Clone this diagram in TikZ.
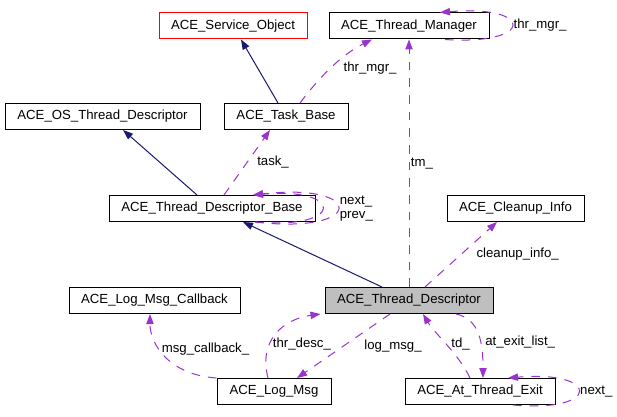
\documentclass[tikz,border=0pt]{standalone}
\usepackage{fontspec}
\setsansfont{Liberation Sans}
\usetikzlibrary{arrows.meta,shapes}

\definecolor{inheritblue}{HTML}{191970}
\definecolor{usepurple}{HTML}{9A32CD}
\definecolor{descgray}{HTML}{BFBFBF}

\begin{document}
\begin{tikzpicture}[
  x=0.75pt, y=-0.75pt,
  font=\sffamily\fontsize{9.9}{11.5}\selectfont,
  >={Triangle[length=7.5pt, width=5.5pt]},
  entity/.style={draw, rectangle, fill=white, line width=0.75pt, minimum height=19.5pt, inner xsep=2pt},
  main-entity/.style={entity, fill=descgray},
  other-entity/.style={entity, draw=red},
  inherit/.style={->, draw=inheritblue, line width=0.75pt},
  arrow/.style={->, draw=usepurple, line width=0.75pt, dash pattern=on 6.5pt off 6pt},
  every node/.style={align=left}]

  \useasboundingbox[fill=white] (0,0) rectangle (617,417);

  % Place the classes at the spots of the layout
  \node[other-entity, minimum width=111pt] (service-object) at (233,26) {ACE\_Service\_Object};
  \node[entity, minimum width=120pt] (thread-manager) at (409,26) {ACE\_Thread\_Manager};
  \node[entity, minimum width=146.25pt] (os-thread-descriptor) at (102.5,116.5) {ACE\_OS\_Thread\_Descriptor};
  \node[entity, minimum width=93pt] (task-base) at (286,116.5) {ACE\_Task\_Base};
  \node[entity, minimum width=154.5pt] (descriptor-base) at (212,208.5) {ACE\_Thread\_Descriptor\_Base};
  \node[entity, minimum width=102.75pt] (cleanup-info) at (515.5,208.5) {ACE\_Cleanup\_Info};
  \node[entity, minimum width=128.25pt] (log-msg-callback) at (154.5,300.5) {ACE\_Log\_Msg\_Callback};
  \node[main-entity, minimum width=126pt] (thread-descriptor) at (409,300.5) {ACE\_Thread\_Descriptor};
  \node[entity, minimum width=85.5pt] (log-msg) at (274,391.5) {ACE\_Log\_Msg};
  \node[entity, minimum width=112.5pt] (at-thread-exit) at (480,391.5) {ACE\_At\_Thread\_Exit};

  % Inheritance edges
  \draw[inherit] ([xshift=-6pt]task-base.north) -- ([xshift=6pt]service-object.south);
  \draw[inherit] ([xshift=-11.25pt]descriptor-base.north) -- ([xshift=15.4pt]os-thread-descriptor.south);
  \draw[inherit] ([xshift=-20.25pt]thread-descriptor.north) -- ([xshift=23.25pt]descriptor-base.south);

  % Usage edges, each with the member name
  \draw[arrow] ([xshift=9pt]descriptor-base.north) --
    node[midway, right=4pt] {task\_}
    ([xshift=-12pt]task-base.south);
  \draw[arrow] ([xshift=10.5pt]task-base.north) .. controls +(18,-24) and +(-32,16) ..
    ([xshift=-27.75pt]thread-manager.south)
    node[midway, right=6pt] {thr\_mgr\_};
  \draw[arrow] ([xshift=27pt]thread-manager.south) .. controls +(90,6) and +(95,-8) ..
    ([xshift=23.25pt]thread-manager.north)
    node[midway, right, inner sep=1pt] {thr\_mgr\_};
  \draw[arrow] (thread-descriptor.north) --
    node[midway, right, inner sep=1pt] {tm\_}
    (thread-manager.south);
  \draw[arrow] ([xshift=32.25pt]descriptor-base.south) .. controls +(90,8) and +(92,-8) ..
    ([xshift=30.75pt]descriptor-base.north);
  \draw[arrow] ([xshift=32.25pt]descriptor-base.south) .. controls +(111,13) and +(113,-13) ..
    ([xshift=30.75pt]descriptor-base.north)
    node[midway, right, inner sep=1pt, font=\sffamily\fontsize{9.9}{11}\selectfont] {next\_\\prev\_};
  \draw[arrow] ([xshift=12pt]thread-descriptor.north) --
    node[midway, right=8pt] {cleanup\_info\_}
    ([xshift=-13.9pt]cleanup-info.south);
  \draw[arrow] (log-msg.north west) .. controls (170,375) and (150,345) ..
    ([xshift=-3.4pt]log-msg-callback.south)
    node[pos=0.6, right, inner sep=1pt] {msg\_callback\_};
  \draw[arrow] ([xshift=-4.5pt]log-msg.north) .. controls +(-10,-39) and +(-36,5) ..
    ([xshift=-3pt]thread-descriptor.south west)
    node[pos=0.35, right, inner sep=2pt] {thr\_desc\_};
  \draw[arrow] ([xshift=-14.25pt]thread-descriptor.south) --
    node[midway, right=12pt] {log\_msg\_}
    ([xshift=17.25pt]log-msg.north);
  \draw[arrow] ([xshift=-7.5pt]at-thread-exit.north) .. controls +(-12,-25) and +(12,20) ..
    ([xshift=10.5pt]thread-descriptor.south)
    node[midway, right] {td\_};
  \draw[arrow] ([xshift=35.25pt]thread-descriptor.south) .. controls +(24,5) and +(0,-34) ..
    ([xshift=2.25pt]at-thread-exit.north)
    node[pos=0.6, right] {at\_exit\_list\_};
  \draw[arrow] ([xshift=24.75pt]at-thread-exit.south) .. controls +(88,8) and +(93,-8) ..
    ([xshift=21pt]at-thread-exit.north)
    node[midway, right, inner sep=1pt] {next\_};

\end{tikzpicture}
\end{document}
